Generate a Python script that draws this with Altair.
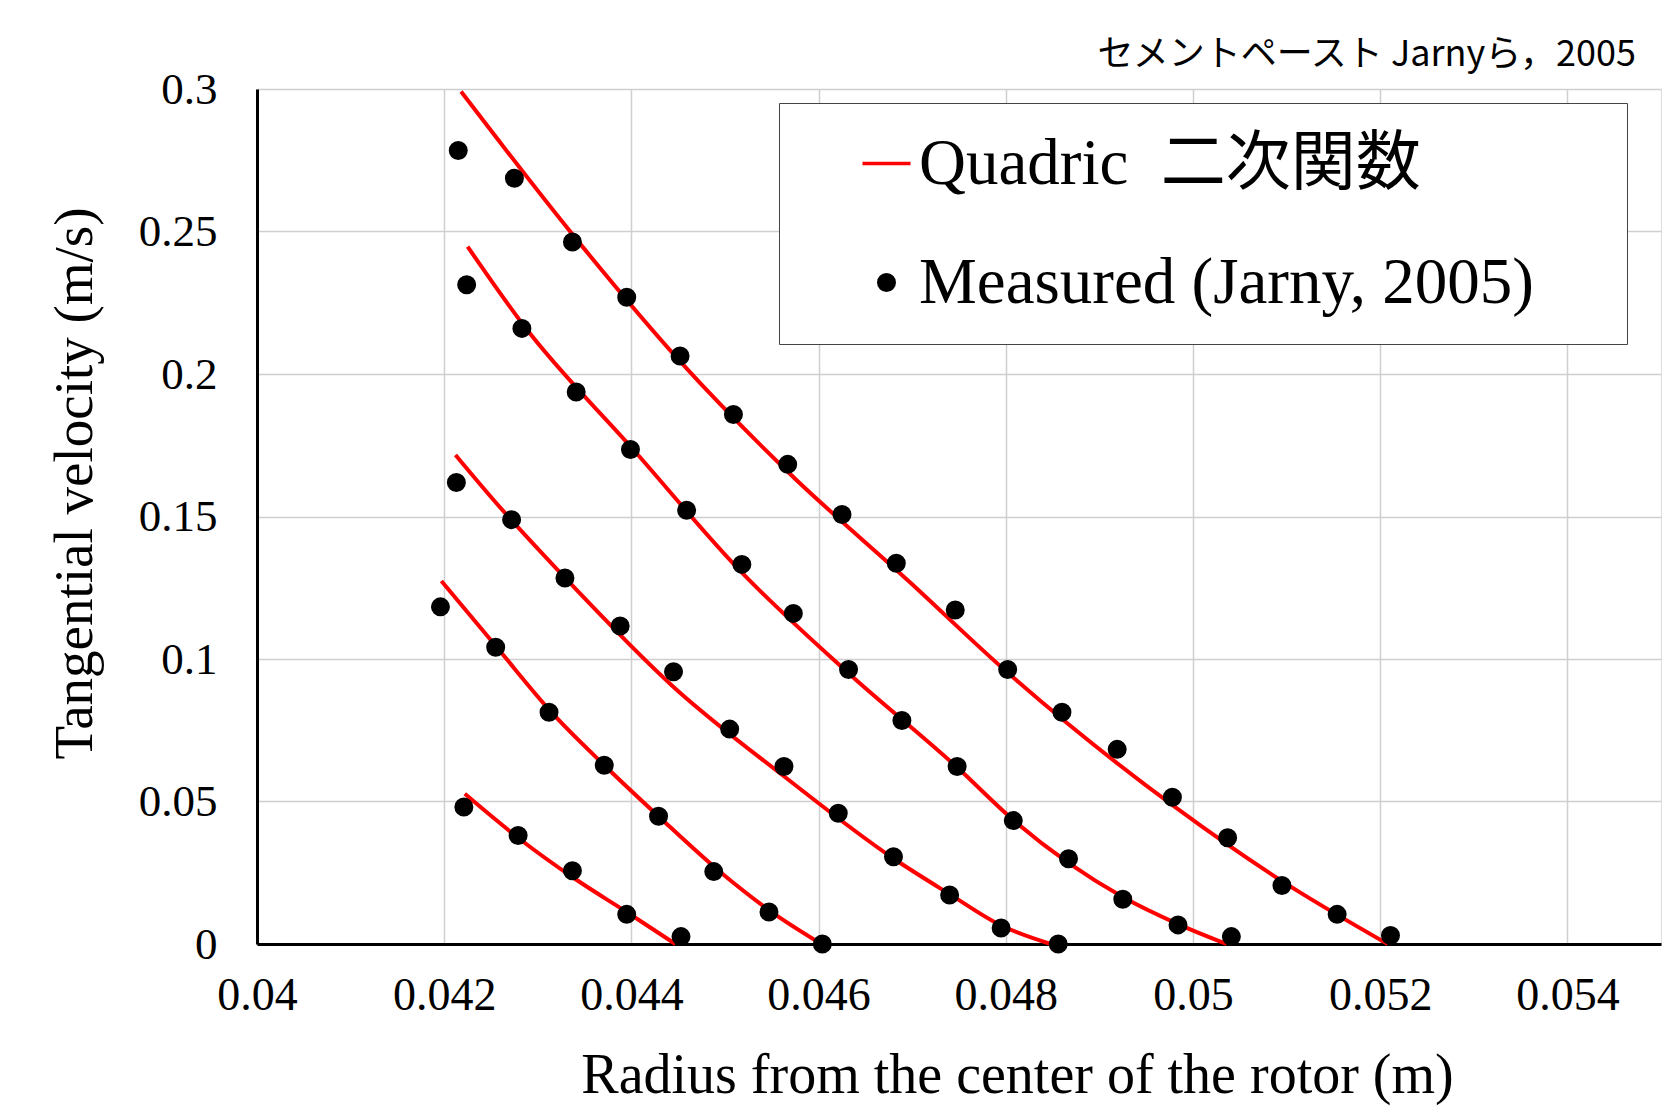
import altair as alt
import pandas as pd

# ---------------- data ----------------
# measured points (Jarny, 2005), five rotation speeds
s1_x = [0.04215, 0.04275, 0.04337, 0.04395, 0.04452, 0.04509, 0.04567, 0.04625, 0.04683,
        0.04746, 0.04802, 0.0486, 0.04919, 0.04978, 0.05037, 0.05095, 0.05154, 0.05211]
s1_y = [0.2784, 0.2687, 0.2463, 0.2269, 0.2063, 0.1858, 0.1683, 0.1507, 0.1336,
        0.1172, 0.0963, 0.0813, 0.0683, 0.0515, 0.0373, 0.0205, 0.0104, 0.003]
s2_x = [0.04224, 0.04283, 0.04341, 0.04399, 0.04459, 0.04518, 0.04573, 0.04632, 0.04689,
        0.04748, 0.04808, 0.04867, 0.04925, 0.04984, 0.05041]
s2_y = [0.2313, 0.2160, 0.1937, 0.1735, 0.1522, 0.1332, 0.1160, 0.0963, 0.0784,
        0.0623, 0.0433, 0.0299, 0.0157, 0.0067, 0.0026]
s3_x = [0.04213, 0.04272, 0.04329, 0.04388, 0.04445, 0.04505, 0.04563, 0.04621, 0.0468,
        0.0474, 0.04795, 0.04856]
s3_y = [0.1619, 0.1489, 0.1284, 0.1116, 0.0955, 0.0754, 0.0623, 0.0459, 0.0306,
        0.0172, 0.0056, 0.0]
s4_x = [0.04196, 0.04255, 0.04312, 0.04371, 0.04429, 0.04488, 0.04547, 0.04604]
s4_y = [0.1183, 0.1041, 0.0813, 0.0627, 0.0448, 0.0254, 0.0112, 0.0]
s5_x = [0.04221, 0.04279, 0.04337, 0.04395, 0.04453]
s5_y = [0.0481, 0.0381, 0.0257, 0.0104, 0.0026]

# quadric fit curves
c1_x = [0.04218, 0.04339, 0.04454, 0.04569, 0.04697, 0.04801, 0.04981, 0.05093, 0.05208]
c1_y = [0.2991, 0.2482, 0.2037, 0.1651, 0.1271, 0.0955, 0.0480, 0.0225, 0.0]
c2_x = [0.04225, 0.04285, 0.04402, 0.04516, 0.04632, 0.04748, 0.04808, 0.04925, 0.04984, 0.05036]
c2_y = [0.2447, 0.2170, 0.1735, 0.1310, 0.0950, 0.0620, 0.0435, 0.0165, 0.0070, 0.0]
c3_x = [0.04212, 0.04253, 0.0433, 0.04445, 0.04564, 0.0468, 0.0474, 0.04795, 0.04848]
c3_y = [0.1716, 0.1557, 0.1282, 0.0902, 0.0586, 0.0300, 0.0175, 0.0065, 0.0]
c4_x = [0.04197, 0.04256, 0.04316, 0.04373, 0.0443, 0.04493, 0.0455, 0.04603]
c4_y = [0.1274, 0.1042, 0.0808, 0.0621, 0.0445, 0.0258, 0.0112, 0.0]
c5_x = [0.04222, 0.04282, 0.0434, 0.04397, 0.04447]
c5_y = [0.0527, 0.0365, 0.0228, 0.0108, 0.0]

x_ticks = [0.04, 0.042, 0.044, 0.046, 0.048, 0.05, 0.052, 0.054]
y_ticks = [0, 0.05, 0.1, 0.15, 0.2, 0.25, 0.3]

legend_labels = ["Quadric\u00a0\u00a0二次関数", "Measured (Jarny, 2005)"]
title_text = "セメントペースト  Jarnyら，2005"
x_title = "Radius from the center of the rotor (m)"
y_title = "Tangential velocity (m/s)"

# ---------------- tables ----------------
pt_rows = []
for k, (xs, ys) in enumerate([(s1_x, s1_y), (s2_x, s2_y), (s3_x, s3_y), (s4_x, s4_y), (s5_x, s5_y)]):
    for xv, yv in zip(xs, ys):
        pt_rows.append({"x": xv, "y": yv, "set": k, "series": legend_labels[1]})
pts = pd.DataFrame(pt_rows)

cv_rows = []
for k, (xs, ys) in enumerate([(c1_x, c1_y), (c2_x, c2_y), (c3_x, c3_y), (c4_x, c4_y), (c5_x, c5_y)]):
    for i, (xv, yv) in enumerate(zip(xs, ys)):
        cv_rows.append({"x": xv, "y": yv, "curve": k, "i": i})
cvs = pd.DataFrame(cv_rows)

SERIF = "Liberation Serif, Times New Roman, Noto Sans CJK JP"

xscale = alt.Scale(domain=[0.04, 0.055], nice=False, zero=False)
yscale = alt.Scale(domain=[0, 0.3], nice=False)

xaxis = alt.Axis(values=x_ticks, format="~g", grid=True, gridColor="#cfcfcf", gridWidth=1.5,
                 ticks=False, domainColor="black", domainWidth=3,
                 labelFont=SERIF, labelFontSize=46, labelColor="black", labelPadding=29,
                 labelFlush=False, labelOverlap=False,
                 title=x_title, titleFont=SERIF, titleFontSize=56, titleFontWeight="normal",
                 titleColor="black", titleX=760, titleY=148, titleAlign="center",
                 titleBaseline="alphabetic")
yaxis = alt.Axis(values=y_ticks, format="~g", grid=True, gridColor="#cfcfcf", gridWidth=1.5,
                 ticks=False, domainColor="black", domainWidth=3,
                 labelFont=SERIF, labelFontSize=45, labelColor="black", labelPadding=40,
                 labelFlush=False, labelOverlap=False,
                 title=y_title, titleFont=SERIF, titleFontSize=55, titleFontWeight="normal",
                 titleColor="black", titleX=-166, titleY=394, titleAngle=270, titleAlign="center",
                 titleBaseline="alphabetic")

# trailing no-break spaces (kept from trimming by a zero-width space) widen the legend box
leg = alt.Legend(title=None, orient="none", legendX=522, legendY=14,
                 fillColor="white", strokeColor="#444444", padding=28,
                 labelFont=SERIF, labelFontSize=65, labelColor="black", labelLimit=2000,
                 symbolSize=240, symbolStrokeWidth=3.5, symbolOffset=47, labelOffset=0,
                 rowPadding=53,
                 labelExpr="datum.label + '\u00a0\u00a0\u00a0\u00a0\u200b'")

lines = alt.Chart(cvs).mark_line(color="#ff0000", strokeWidth=4, interpolate="monotone").encode(
    x=alt.X("x:Q", scale=xscale, axis=xaxis),
    y=alt.Y("y:Q", scale=yscale, axis=yaxis),
    detail="curve:N",
    order="i:O",
)

points = alt.Chart(pts).mark_point(filled=True, opacity=1, size=240, strokeWidth=3.5).encode(
    x=alt.X("x:Q", scale=xscale),
    y=alt.Y("y:Q", scale=yscale),
    fill=alt.Fill("series:N", scale=alt.Scale(domain=legend_labels, range=["#ff0000", "#000000"]), legend=leg),
    stroke=alt.Stroke("series:N", scale=alt.Scale(domain=legend_labels, range=["#ff0000", "#000000"]), legend=leg),
    shape=alt.Shape("series:N", scale=alt.Scale(domain=legend_labels, range=["M-3.1,0H3.1", "circle"]), legend=leg),
    detail="set:N",
)

chart = alt.layer(lines, points).properties(
    width=1404, height=855,
    padding={"left": 257, "top": 89, "right": 5, "bottom": 163},
    autosize=alt.AutoSizeParams(type="none"),
    title=alt.TitleParams(text=title_text, anchor="end", frame="group", font="Noto Sans CJK JP",
                          fontSize=36, fontWeight="normal", color="black", offset=21,
                          baseline="alphabetic", dx=-25, dy=56),
).configure_view(stroke="black", strokeWidth=3).configure(background="white")

chart.save("out.html", embed_options={"renderer": "svg", "actions": False})
